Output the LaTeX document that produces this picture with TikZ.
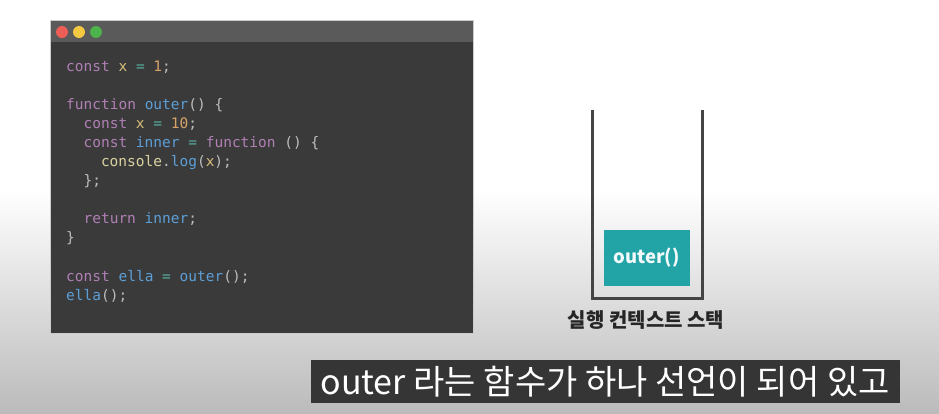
\documentclass[tikz,border=0pt]{standalone}
\usepackage{fontspec}
\setmonofont{DejaVu Sans Mono}
\newfontfamily\kr{Noto Sans CJK KR}
\definecolor{bgb}{HTML}{BBBBBB}
\definecolor{winbar}{HTML}{5A5A5A}
\definecolor{winbody}{HTML}{3A3A3A}
\definecolor{kw}{HTML}{B07FB4}
\definecolor{vr}{HTML}{D8BE7C}
\definecolor{nm}{HTML}{D6A468}
\definecolor{op}{HTML}{58AE9E}
\definecolor{fn}{HTML}{5C9ED6}
\definecolor{pc}{HTML}{BDBDBD}
\definecolor{cy}{HTML}{D9D2A0}
\definecolor{teal}{HTML}{22A3A6}
\definecolor{stk}{HTML}{444444}
\definecolor{subbg}{HTML}{353535}
\newcommand{\K}[1]{\textcolor{kw}{#1}}
\newcommand{\V}[1]{\textcolor{vr}{#1}}
\newcommand{\N}[1]{\textcolor{nm}{#1}}
\newcommand{\Op}[1]{\textcolor{op}{#1}}
\newcommand{\F}[1]{\textcolor{fn}{#1}}
\newcommand{\Pc}[1]{\textcolor{pc}{#1}}
\tikzset{
  codeline/.style={anchor=base west, inner sep=0pt, font=\ttfamily\fontsize{14.5}{14.5}\selectfont, text=pc},
  dot/.style={circle, inner sep=0pt, minimum size=12pt},
}
\begin{document}
\begin{tikzpicture}[x=1pt,y=-1pt]
\useasboundingbox (0,0) rectangle (939,413);
\fill[white] (0,0) rectangle (939,190);
\shade[top color=white,bottom color=bgb] (0,190) rectangle (939,413);
% code window
\fill[winbody] (50,20) rectangle (473,333);
\fill[winbar] (50,20) rectangle (473,42);
\draw[white!80!black, line width=0.8pt] (50,20) rectangle (473,333);
\node[dot, fill={rgb,255:red,236;green,94;blue,86}] (d1) at (62,32) {};
\node[dot, fill={rgb,255:red,245;green,200;blue,66}] (d2) at (79,32) {};
\node[dot, fill={rgb,255:red,76;green,178;blue,76}] (d3) at (96,32) {};
% code
\def\cw{8.7}
\node[codeline] (l1) at (66,71) {\K{const} \V{x} \Op{=} \N{1};};
\node[codeline] (l3) at (66,109) {\K{function} \F{outer}() \{};
\node[codeline] (l4) at (66+2*\cw,128) {\K{const} \V{x} \Op{=} \N{10};};
\node[codeline] (l5) at (66+2*\cw,147) {\K{const} \F{inner} \Op{=} \K{function} () \{};
\node[codeline] (l6) at (66+4*\cw,166) {\textcolor{cy}{console}.\F{log}(\V{x});};
\node[codeline] (l7) at (66+2*\cw,185) {\};};
\node[codeline] (l9) at (66+2*\cw,223) {\K{return} \F{inner};};
\node[codeline] (l10) at (66,242) {\}};
\node[codeline] (l12) at (66,281) {\K{const} \F{ella} \Op{=} \F{outer}();};
\node[codeline] (l13) at (66,300) {\F{ella}();};
% stack
\coordinate (sTL) at (592,110);
\coordinate (sBL) at (592,298);
\coordinate (sBR) at (702,298);
\coordinate (sTR) at (702,110);
\draw[stk, line width=3pt] (sTL) -- (sBL) -- (sBR) -- (sTR);
\node[fill=teal, minimum width=86pt, minimum height=56pt, inner sep=0pt, text=white!95!teal, font=\kr\bfseries\fontsize{18.5}{18.5}\selectfont] (outer) at (646.5,258) {outer()};
\node[text=black!85, font=\kr\bfseries\fontsize{20}{20}\selectfont, inner sep=0pt] (lab) at (646,320) {실행 컨텍스트 스택};
% subtitle
\fill[subbg] (311,360) rectangle (900,403);
\node[text=white, font=\kr\fontsize{34}{34}\selectfont, inner sep=0pt] (sub) at (605,382) {outer 라는 함수가 하나 선언이 되어 있고};
\end{tikzpicture}
\end{document}
